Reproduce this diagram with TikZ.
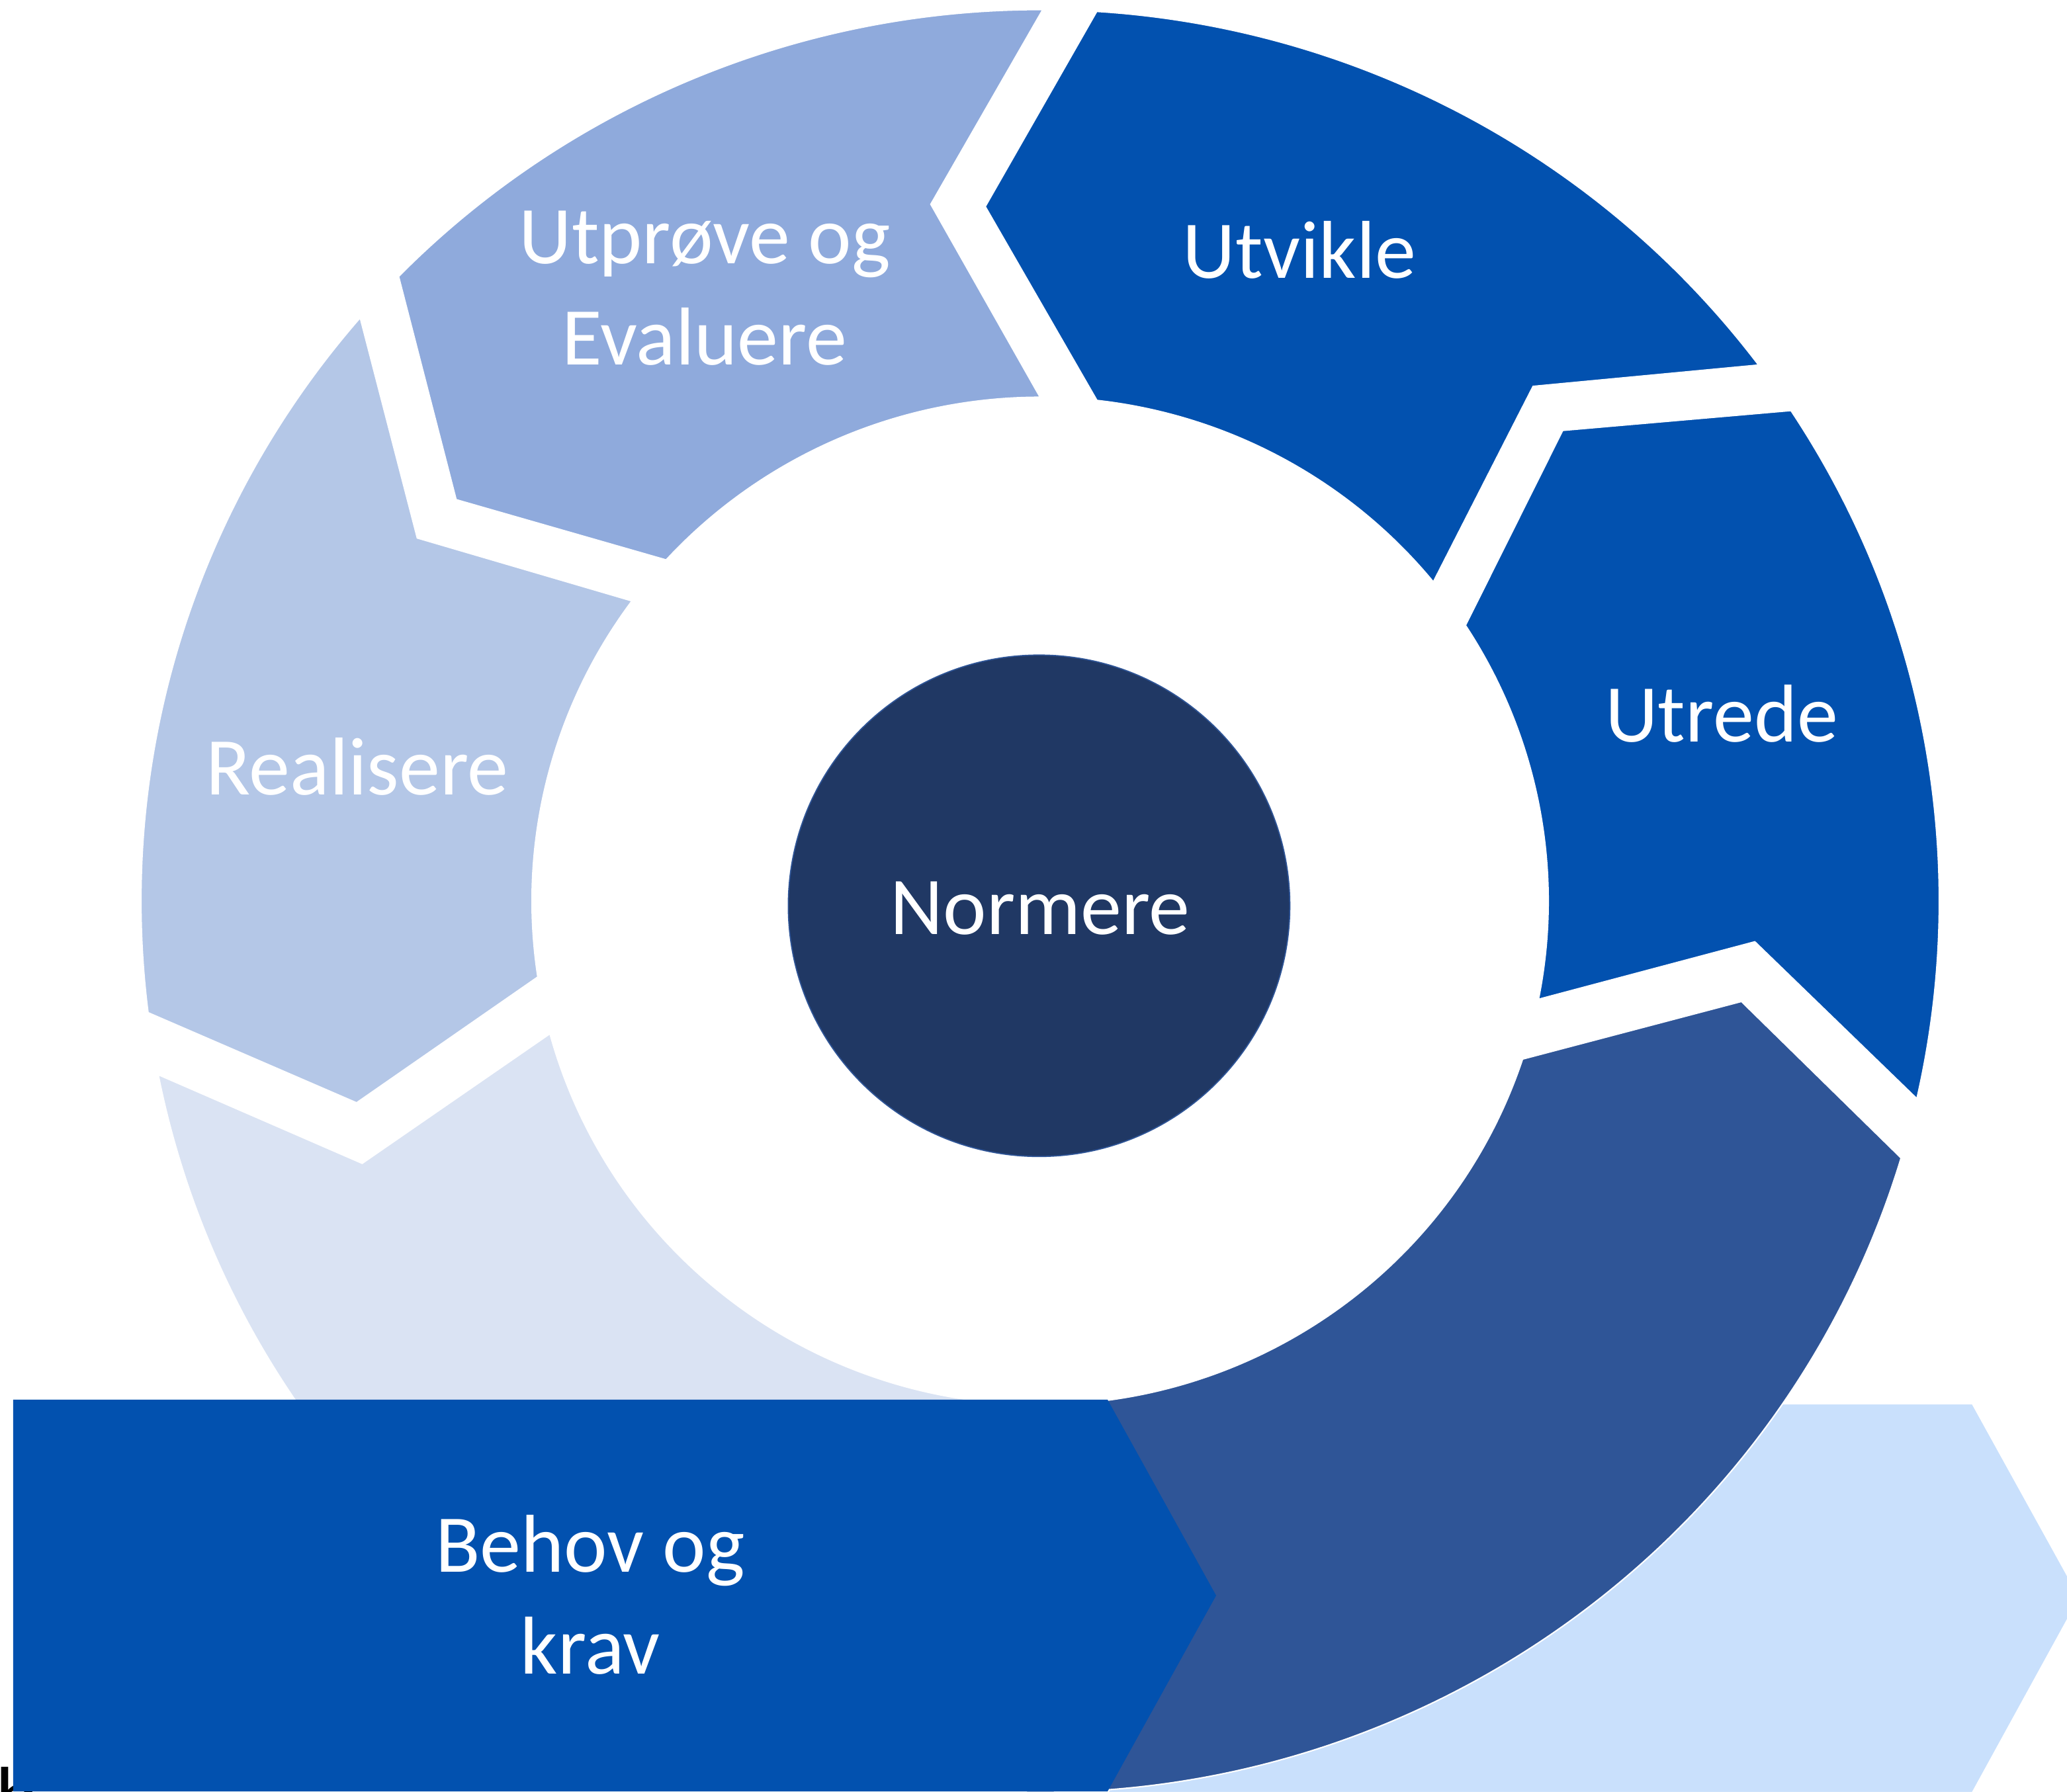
\documentclass[tikz,border=0pt]{standalone}
\usepackage{fontspec}
\setmainfont{Carlito}
\definecolor{dkblue}{HTML}{0251AF}
\definecolor{midblue}{HTML}{2F5597}
\definecolor{cfortyblue}{HTML}{8FAADC}
\definecolor{csixtyblue}{HTML}{B4C7E7}
\definecolor{ceightyblue}{HTML}{DAE3F3}
\definecolor{navyblue}{HTML}{203864}
\definecolor{skyblue}{HTML}{C9E0FC}
\tikzset{
  segment/.style={draw=white, line width=0.6pt, line join=miter},
  lbl/.style={text=white, inner sep=0pt, font=\fontsize{35.3}{43.8}\selectfont},
}
\begin{document}
\begin{tikzpicture}
\useasboundingbox (0,0) rectangle (31.24,27.08);
\fill[white] (0,0) rectangle (31.24,27.08);

% light blue arrow at the bottom right
\fill[skyblue, segment] (16.74,5.86) -- (29.81,5.86) -- (31.43,2.93) -- (29.81,-0.02) -- (16.74,-0.02) -- (18.38,2.93) -- cycle;

\begin{scope}[shift={(15.72,13.46)}, yscale=0.9915]
  % C (dark mid blue, bottom right)
  \fill[midblue, segment] (-92:13.59) arc[start angle=-92, end angle=-16.76, radius=13.59]
    -- (-8.23:10.71) -- (-18.30:7.68) arc[start angle=-18.30, end angle=-92, radius=7.68] -- cycle;
  % D (lightest, bottom left)
  \fill[ceightyblue, segment] (191.24:13.59) arc[start angle=191.24, end angle=268, radius=13.59]
    -- (268:7.68) arc[start angle=268, end angle=195.28, radius=7.68] -- (201.33:11.00) -- cycle;
  % Realisere
  \fill[csixtyblue, segment] (139.13:13.59) arc[start angle=139.13, end angle=187.20, radius=13.59]
    -- (196.59:10.78) -- (188.68:7.68) arc[start angle=188.68, end angle=143.44, radius=7.68]
    -- (149.55:10.92) -- cycle;
  % Utprove og Evaluere
  \fill[cfortyblue, segment] (89.83:13.59) arc[start angle=89.83, end angle=135.52, radius=13.59]
    -- (145.27:10.74) -- (137.39:7.68) arc[start angle=137.39, end angle=90, radius=7.68]
    -- (98.84:10.75) -- cycle;
  % Utvikle
  \fill[dkblue, segment] (36.96:13.59) arc[start angle=36.96, end angle=86.39, radius=13.59]
    -- (94.48:10.62) -- (83.58:7.68) arc[start angle=83.58, end angle=39.30, radius=7.68]
    -- (46.48:10.82) -- cycle;
  % Utrede
  \fill[dkblue, segment] (-12.82:13.59) arc[start angle=-12.82, end angle=33.38, radius=13.59]
    -- (42.25:10.67) -- (33.17:7.68) arc[start angle=33.17, end angle=-11.26, radius=7.68]
    -- (-3.30:10.82) -- cycle;
\end{scope}

% centre circle
\node[circle, fill=navyblue, draw=midblue, line width=0.5pt, minimum size=7.58cm, inner sep=0pt] (centre) at (15.704,13.387) {};

% partly hidden black text at the bottom left
\node[anchor=base west, inner sep=0pt, text=black, font=\fontsize{35.3}{43.8}\selectfont] (hidden) at (-0.07,-0.49) {h};

% Behov og krav arrow
\fill[dkblue] (0.20,5.92) -- (16.74,5.92) -- (18.38,2.96) -- (16.74,0) -- (0.20,0) -- cycle;

% labels
\node[lbl, anchor=base] (normere) at (15.72,12.954) {Normere};
\node[lbl, anchor=base] (utvikle) at (19.64,22.876) {Utvikle};
\node[lbl, anchor=base] (utrede) at (26.02,15.863) {Utrede};
\node[lbl, anchor=base] (realisere) at (5.40,15.066) {Realisere};
\node[lbl, anchor=base, align=center] (utprove) at (10.65,21.56) {Utprøve og\\Evaluere};
\node[lbl, anchor=base, align=center] (behov) at (8.92,1.78) {Behov og\\krav};
\end{tikzpicture}
\end{document}
